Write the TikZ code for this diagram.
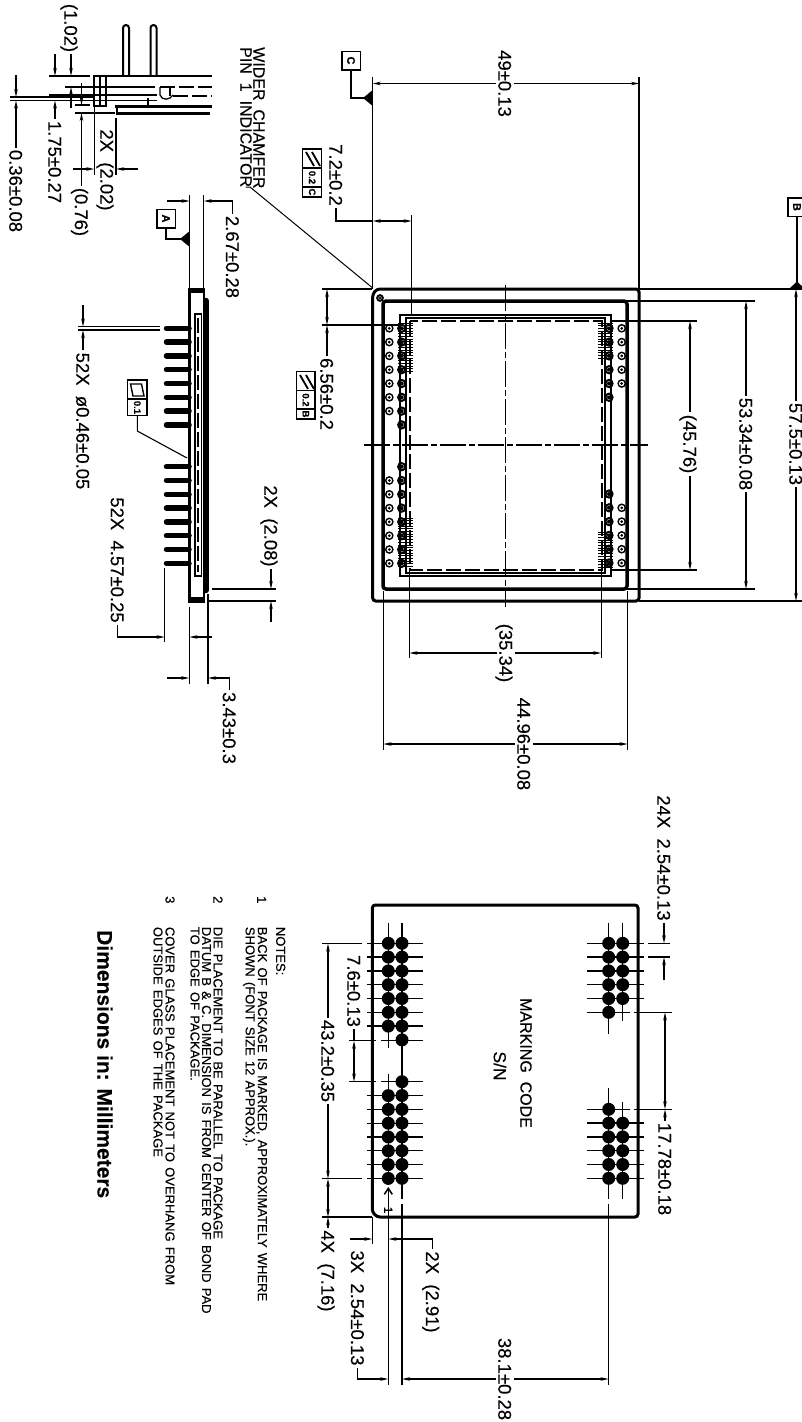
\documentclass[tikz,border=0pt]{standalone}
\usepackage{fontspec}
\setmainfont{Liberation Sans}[FakeBold=0.25]
\usetikzlibrary{arrows.meta}
\newcommand{\notefont}{\fontsize{13}{14}\selectfont\spaceskip=.4em\relax}
\tikzset{
    dimtext/.style={rotate=-90, inner sep=2pt, text height=13.4pt, text depth=0pt, font=\fontsize{18.5}{20}\selectfont},
    notetext/.style={rotate=-90, anchor=west, inner sep=0pt, font=\notefont},
    labeltext/.style={rotate=-90, inner sep=0pt, font=\fontsize{16}{18}\selectfont},
    datum/.style={draw, rotate=-90, line width=1.5pt, minimum size=18.5pt, inner sep=0pt, font=\fontsize{11}{12}\bfseries\selectfont},
    frametext/.style={rotate=-90, inner sep=0pt, font=\fontsize{9.5}{10}\bfseries\selectfont},
    extline/.style={line width=1.3pt},
    dimline/.style={line width=1.3pt, -{Stealth[length=8pt,width=3.5pt]}},
    bothline/.style={line width=1.3pt, {Stealth[length=8pt,width=3.5pt]}-{Stealth[length=8pt,width=3.5pt]}},
    pkgline/.style={line width=3pt, rounded corners=3pt},
    centerline/.style={line width=1.2pt, dash pattern=on 26pt off 3pt on 6pt off 3pt},
    dieline/.style={line width=1.2pt, dash pattern=on 15pt off 4pt},
    pinline/.style={line width=5.5pt, line cap=round},
    frameline/.style={line width=1.4pt}
}
\begin{document}
\begin{tikzpicture}[x=1pt, y=-1pt]
    \useasboundingbox (0,0) rectangle (802,1422);

    % top view
    \draw [pkgline] (377,289) -- (639,289) -- (639,601) -- (372.7,601) -- (372.7,294) -- cycle;
    \draw [pkgline, line width=3.5pt] (383,301) rectangle (627,589);
    \draw [line width=1.3pt] (400,315) rectangle (611,576);
    \draw [line width=1.2pt] (406,318) rectangle (605,573);
    \draw [dieline] (410,321) rectangle (602,570);
    \draw [centerline] (505.3,285) -- (505.3,607);
    \draw [centerline] (364,445) -- (648,445);
    \draw [line width=2pt, fill=white] (380,298) circle (2.8);
    \fill (380,298) circle (1.4);
    % pads
    \foreach \y in {0,...,6} {
        \draw [line width=1.4pt] (389.3,{328.3+13.8*\y}) circle (3.6);
        \fill (389.3,{328.3+13.8*\y}) circle (1.5);
        \draw [line width=1.4pt] (389.3,{480.5+13.8*\y}) circle (3.6);
        \fill (389.3,{480.5+13.8*\y}) circle (1.5);
    }
    \foreach \y in {0,...,7} {
        \draw [line width=2pt] (401.7,{328.3+13.8*\y}) circle (3.6);
        \fill (401.7,{328.3+13.8*\y}) circle (2);
        \draw [line width=2pt] (401.7,{466.7+13.8*\y}) circle (3.6);
        \fill (401.7,{466.7+13.8*\y}) circle (2);
    }
    \foreach \y in {0,...,5} {
        \draw [line width=2pt] (609,{328.3+13.8*\y}) circle (3.6);
        \fill (609,{328.3+13.8*\y}) circle (2);
        \draw [line width=2pt] (609,{494+13.8*\y}) circle (3.6);
        \fill (609,{494+13.8*\y}) circle (2);
    }
    \foreach \y in {0,...,4} {
        \draw [line width=1.4pt] (621.7,{328.3+13.8*\y}) circle (3.6);
        \fill (621.7,{328.3+13.8*\y}) circle (1.5);
        \draw [line width=1.4pt] (621.7,{507.8+13.8*\y}) circle (3.6);
        \fill (621.7,{507.8+13.8*\y}) circle (1.5);
    }
    % bond wires
    \foreach \y in {0,...,18} {
        \draw [line width=1pt] (398,{323+2.7*\y}) -- (412.7,{323+2.7*\y});
        \draw [line width=1pt] (398,{518+2.7*\y}) -- (412.7,{518+2.7*\y});
    }
    \foreach \y in {0,...,13} {
        \draw [line width=1pt] (598,{323+2.7*\y}) -- (613,{323+2.7*\y});
        \draw [line width=1pt] (598,{532+2.7*\y}) -- (613,{532+2.7*\y});
    }

    % top view dimensions
    \node [dimtext] (t49) at (505,83.5) {49±0.13};
    \draw [extline] (372.7,77) -- (372.7,289);
    \draw [extline] (639,77) -- (639,289);
    \draw [dimline] (t49) -- (372.7,83.5);
    \draw [dimline] (t49) -- (639,83.5);

    \node [datum] (dC) at (351,60.5) {C};
    \draw [line width=1.4pt] (dC) -- (351,98) -- (364,98);
    \fill (363,98) -- (372.7,90) -- (372.7,106) -- cycle;

    \node [dimtext] (t72) at (336,175) {7.2±0.2};
    \draw [extline] (411.7,215) -- (411.7,315);
    \draw [extline] (t72.east) -- (336,221) -- (372.7,221);
    \draw [dimline] (392,221) -- (372.7,221);
    \draw [dimline] (392,221) -- (411.7,221);

    \draw [frameline] (302.7,149) rectangle (321.7,197);
    \draw [frameline] (302.7,168) -- (321.7,168);
    \draw [frameline] (302.7,187) -- (321.7,187);
    \draw [line width=1.8pt] (306,152) -- (314,166);
    \draw [line width=1.8pt] (312,152) -- (320,166);
    \node [frametext] (f02c) at (312.2,177.5) {0.2};
    \node [frametext] (fc) at (312.2,192) {C};

    \node [datum] (dB) at (797,207) {B};
    \draw [line width=1.4pt] (dB) -- (797,285);
    \fill (797,281.5) -- (789,289) -- (805,289) -- cycle;

    \node [dimtext] (t575) at (796,444) {57.5±0.13};
    \draw [extline] (639,289) -- (802,289);
    \draw [extline] (639,601) -- (802,601);
    \draw [dimline] (t575) -- (796,289);
    \draw [dimline] (t575) -- (796,601);

    \node [dimtext] (t5334) at (746,444) {53.34±0.08};
    \draw [extline] (627,301) -- (755,301);
    \draw [extline] (627,589) -- (755,589);
    \draw [dimline] (t5334) -- (746,301);
    \draw [dimline] (t5334) -- (746,589);

    \node [dimtext] (t4576) at (690,444) {(45.76)};
    \draw [extline] (611,321) -- (697,321);
    \draw [extline] (611,570) -- (697,570);
    \draw [dimline] (t4576) -- (690,321);
    \draw [dimline] (t4576) -- (690,570);

    \node [dimtext] (t3534) at (506,653) {(35.34)};
    \draw [extline] (409.3,570) -- (409.3,658);
    \draw [extline] (601.3,570) -- (601.3,658);
    \draw [dimline] (t3534) -- (409.3,653);
    \draw [dimline] (t3534) -- (601.3,653);

    \node [dimtext] (t4496) at (524,744) {44.96±0.08};
    \draw [extline] (383.3,591) -- (383.3,750);
    \draw [extline] (627.7,591) -- (627.7,750);
    \draw [dimline] (t4496) -- (383.3,744);
    \draw [dimline] (t4496) -- (627.7,744);

    \node [dimtext] (t656) at (327,394) {6.56±0.2};
    \draw [extline] (322,289) -- (372,289);
    \draw [extline] (322,325) -- (400,325);
    \draw [dimline] (t656) -- (327,325);
    \draw [bothline] (327,289) -- (327,325);
    \draw [frameline] (296.7,371.7) rectangle (315,419);
    \draw [frameline] (296.7,390.7) -- (315,390.7);
    \draw [frameline] (296.7,409) -- (315,409);
    \draw [line width=1.8pt] (300,375) -- (308,389);
    \draw [line width=1.8pt] (306,375) -- (314,389);
    \node [frametext] (f02b) at (305.8,400) {0.2};
    \node [frametext] (fb) at (305.8,414) {B};

    % pin 1 label
    \node [labeltext, anchor=west] (twider) at (259,47) {WIDER\ \ CHAMFER};
    \node [labeltext, anchor=west] (tpin) at (246,47) {PIN\ \ 1\ \ INDICATOR};
    \draw [line width=1pt] (tpin.east) -- (246,187) -- (250,187) -- (372.7,288);

    % side view
    \draw [line width=2.5pt] (189.3,289) rectangle (204,601.7);
    \fill (188,288) rectangle (205,293);
    \fill (188,597) rectangle (205,603);
    \draw [line width=6.5pt, line cap=round] (206,301) -- (206,590);
    \draw [line width=1.4pt] (195,314) rectangle (201.7,576);
    \draw [dieline, line width=1.4pt] (198,318) -- (198,572);
    \foreach \y in {0,...,7} {
        \draw [pinline] (166.5,{328.3+13.8*\y}) -- (189,{328.3+13.8*\y});
        \draw [pinline] (166.5,{466.7+13.8*\y}) -- (189,{466.7+13.8*\y});
    }

    \node [dimtext] (t267) at (232.7,257) {2.67±0.28};
    \draw [extline] (189.7,195) -- (189.7,289);
    \draw [extline] (203.7,195) -- (203.7,289);
    \draw [dimline] (167,201) -- (189.7,201);
    \draw [dimline] (t267.west) -- (232.7,201) -- (203.7,201);

    \node [datum] (dA) at (166,218.5) {A};
    \draw [line width=1.4pt] (dA) -- (166,239) -- (182,239);
    \fill (180,239) -- (189.7,231) -- (189.7,247) -- cycle;

    \node [dimtext] (t046) at (83,421) {52X\ \ ø0.46±0.05};
    \draw [extline] (78,326.7) -- (160,326.7);
    \draw [extline] (78,330) -- (160,330);
    \draw [dimline] (83,305) -- (83,326.7);
    \draw [dimline] (t046) -- (83,330);

    \draw [frameline] (127.7,380) rectangle (147,415.7);
    \draw [frameline] (127.7,399) -- (147,399);
    \draw [line width=1.4pt] (130.5,384) -- (133,396) -- (144,396) -- (141.5,384) -- cycle;
    \node [frametext] (f01) at (137.3,407.5) {0.1};
    \draw [line width=1.1pt] (137.3,415.7) -- (137.3,431) -- (187,458);

    \node [dimtext] (t457) at (117.5,560) {52X\ \ 4.57±0.25};
    \draw [extline] (164.7,568) -- (164.7,642);
    \draw [extline] (189.3,606.7) -- (189.3,684);
    \draw [extline] (208,594) -- (208,684);
    \draw [dimline] (t457.east) -- (117.5,637) -- (164.7,637);
    \draw [dimline] (212,637) -- (189.3,637);

    \node [dimtext] (t343) at (229.5,728) {3.43±0.3};
    \draw [dimline] (167,678) -- (189.3,678);
    \draw [dimline] (t343.west) -- (229.5,678) -- (208,678);

    \node [dimtext] (t208) at (271,526) {2X\ \ (2.08)};
    \draw [extline] (212,589) -- (276,589);
    \draw [extline] (208,601) -- (276,601);
    \draw [dimline] (t208) -- (271,589);
    \draw [dimline] (271,622) -- (271,601);

    % detail view
    \draw [line width=2pt] (123,76) -- (123,28) arc (180:360:3) -- (129,76);
    \draw [line width=2pt] (150.5,76) -- (150.5,28) arc (180:360:3) -- (156.5,76);
    \draw [line width=2pt] (94.3,76) -- (212,76);
    \draw [line width=2pt] (94.3,76) rectangle (106,106);
    \draw [line width=1.6pt] (100,76) -- (100,106);
    \draw [extline] (65,87) -- (155,87);
    \draw [dieline] (160,87) -- (212,87);
    \draw [line width=1.6pt] (49,95) -- (157,95);
    \draw [line width=1.6pt] (10,97) -- (94,97);
    \draw [line width=1.6pt] (10,100.5) -- (157,100.5);
    \draw [extline] (148,98) -- (148,105);
    \draw [extline] (160,87) -- (160,95) .. controls (162,101) and (170,100) .. (173,95);
    \draw [extline] (170,87) -- (170,96);
    \draw [dieline] (173,96) -- (212,96);
    \draw [line width=2.2pt] (115,106.5) -- (212,106.5);
    \draw [line width=3.2pt] (116,113.5) -- (210,113.5);
    \draw [line width=2pt] (116.5,106) -- (116.5,115);

    \node [dimtext] (t102) at (71,28) {(1.02)};
    \draw [extline] (49,76) -- (90,76);
    \draw [dimline] (t102) -- (71,76);
    \draw [dimline] (71,108) -- (71,87);

    \node [dimtext] (t175) at (55,162) {1.75±0.27};
    \draw [dimline] (55,54) -- (55,76);
    \draw [dimline] (t175) -- (55,100.5);

    \node [dimtext] (t036) at (16,191) {0.36±0.08};
    \draw [dimline] (16,75) -- (16,97);
    \draw [dimline] (t036) -- (16,100.5);

    \node [dimtext] (t076) at (81.5,212) {(0.76)};
    \draw [extline] (75,105) -- (90,105);
    \draw [extline] (75,113) -- (115,113);
    \draw [dimline] (81.5,83) -- (81.5,105);
    \draw [dimline] (t076) -- (81.5,113);

    \node [dimtext] (t202) at (107,170) {2X\ \ (2.02)};
    \draw [extline] (94.3,106) -- (94.3,175);
    \draw [extline] (116,118) -- (116,175);
    \draw [dimline] (72.7,169) -- (94.3,169);
    \draw [dimline] (138,169) -- (116,169);

    % back view
    \draw [pkgline] (372.3,905) -- (638,905) -- (638,1217) -- (377,1217) -- (372.3,1212) -- cycle;
    \node [labeltext] (tmark) at (526,1063) {MARKING\ \ CODE};
    \node [labeltext, font=\fontsize{17.5}{18}\selectfont] (tsn) at (500,1066) {S/N};
    % balls
    \foreach \y in {0,...,6} {
        \fill (388.3,{943.3+13.8*\y}) circle (6.5);
        \fill (388.3,{1095.6+13.8*\y}) circle (6.5);
    }
    \foreach \y in {0,...,7} {
        \fill (402,{943.3+13.8*\y}) circle (6.5);
        \fill (402,{1081.7+13.8*\y}) circle (6.5);
    }
    \foreach \y in {0,...,5} {
        \fill (608.7,{943.3+13.8*\y}) circle (6.5);
        \fill (608.7,{1109.3+13.8*\y}) circle (6.5);
    }
    \foreach \y in {0,...,4} {
        \fill (622.7,{943.3+13.8*\y}) circle (6.5);
        \fill (622.7,{1123.1+13.8*\y}) circle (6.5);
    }
    % ball center lines
    \foreach \y in {0,...,6} {
        \draw [extline] (367,{943.3+13.8*\y}) -- (423,{943.3+13.8*\y});
        \draw [extline] (367,{1095.6+13.8*\y}) -- (423,{1095.6+13.8*\y});
    }
    \foreach \y in {1040.7,1081.7} {
        \draw [extline] (349,\y) -- (376,\y);
        \draw [extline] (381,\y) -- (423,\y);
    }
    \foreach \y in {0,...,4} {
        \draw [extline] (587,{943.3+13.8*\y}) -- (644,{943.3+13.8*\y});
        \draw [extline] (587,{1123.1+13.8*\y}) -- (644,{1123.1+13.8*\y});
    }
    \foreach \y in {1012.3,1109.3} {
        \draw [extline] (587,\y) -- (630,\y);
        \draw [extline] (634,\y) -- (672,\y);
    }
    \draw [extline] (388.3,922.7) -- (388.3,1048);
    \draw [extline] (388.3,1074) -- (388.3,1178);
    \draw [line width=1.5pt] (402,922.7) -- (402,1199);
    \draw [line width=1.5pt] (402,1204) -- (402,1385);
    \draw [line width=1.5pt, -{Straight Barb[length=6pt,width=8pt]}] (388.3,1385) -- (388.3,1187);
    \node [rotate=-90, inner sep=0pt, font=\fontsize{12}{13}\selectfont] (tone) at (388.3,1210) {1};
    \draw [extline] (608.7,922.7) -- (608.7,1034);
    \draw [extline] (622.7,922.7) -- (622.7,1020.7);
    \draw [extline] (608.7,1088) -- (608.7,1199);
    \draw [line width=1.5pt] (608.7,1204) -- (608.7,1385);
    \draw [extline] (622.7,1101.7) -- (622.7,1199);

    % back view dimensions
    \node [dimtext] (t254a) at (664,858) {24X\ \ 2.54±0.13};
    \draw [extline] (648,943.3) -- (670,943.3);
    \draw [extline] (648,957.1) -- (670,957.1);
    \draw [dimline] (t254a) -- (664,943.3);
    \draw [dimline] (664,980) -- (664,957.1);

    \node [dimtext] (t1778) at (665,1169) {17.78±0.18};
    \draw [dimline] (t1778) -- (665,1109.3);
    \draw [bothline] (665,1012.3) -- (665,1109.3);

    \node [dimtext] (t381) at (505,1379) {38.1±0.28};
    \draw [dimline] (t381) -- (402,1379);
    \draw [dimline] (t381) -- (608.7,1379);

    \node [dimtext] (t254b) at (357.7,1308) {3X\ \ 2.54±0.13};
    \draw [dimline] (t254b.east) -- (357.7,1379) -- (388.3,1379);

    \node [dimtext] (t291) at (432.7,1292) {2X\ \ (2.91)};
    \draw [extline] (372.3,1217) -- (372.3,1244);
    \draw [dimline] (350,1239) -- (372.3,1239);
    \draw [dimline] (t291.west) -- (432.7,1239) -- (388.3,1239);

    \node [dimtext] (t716) at (328,1271) {4X\ \ (7.16)};
    \draw [extline] (322,1217) -- (372,1217);
    \draw [line width=1.5pt] (322,1178.7) -- (362,1178.7);
    \draw [line width=1.5pt] (322,943.5) -- (362,943.5);
    \draw [bothline] (328,1178.7) -- (328,1217);
    \draw [dimline] (t716) -- (328,1217);

    \node [dimtext] (t432) at (328,1061) {43.2±0.35};
    \draw [dimline] (t432) -- (328,943.5);
    \draw [dimline] (t432) -- (328,1178.7);

    \node [dimtext] (t76) at (354,991) {7.6±0.13};
    \draw [extline] (t76.east) -- (354,1040.7);
    \draw [bothline] (354,1040.7) -- (354,1081.7);

    % notes
    \node [notetext] (tnotes) at (280.7,926.7) {NOTES:};
    \node [notetext] (tn1) at (261.7,896) {1};
    \node [notetext] (tn1a) at (261.7,926.7) {BACK OF PACKAGE IS MARKED, APPROXIMATELY WHERE};
    \node [notetext] (tn1b) at (249,926.7) {SHOWN (FONT SIZE 12 APPROX.).};
    \node [notetext] (tn2) at (218,896) {2};
    \node [notetext] (tn2a) at (218,926.7) {DIE PLACEMENT TO BE PARALLEL TO PACKAGE};
    \node [notetext] (tn2b) at (206.5,926.7) {DATUM B \& C. DIMENSION IS FROM CENTER OF BOND PAD};
    \node [notetext] (tn2c) at (195,926.7) {TO EDGE OF PACKAGE.};
    \node [notetext] (tn3) at (170,896) {3};
    \node [notetext] (tn3a) at (170,926.7) {COVER GLASS PLACEMENT NOT TO OVERHANG FROM};
    \node [notetext] (tn3b) at (158,926.7) {OUTSIDE EDGES OF THE PACKAGE};
    \node [notetext, font=\fontsize{21}{22}\bfseries\selectfont] (ttitle) at (105,930) {Dimensions in: Millimeters};
\end{tikzpicture}
\end{document}
